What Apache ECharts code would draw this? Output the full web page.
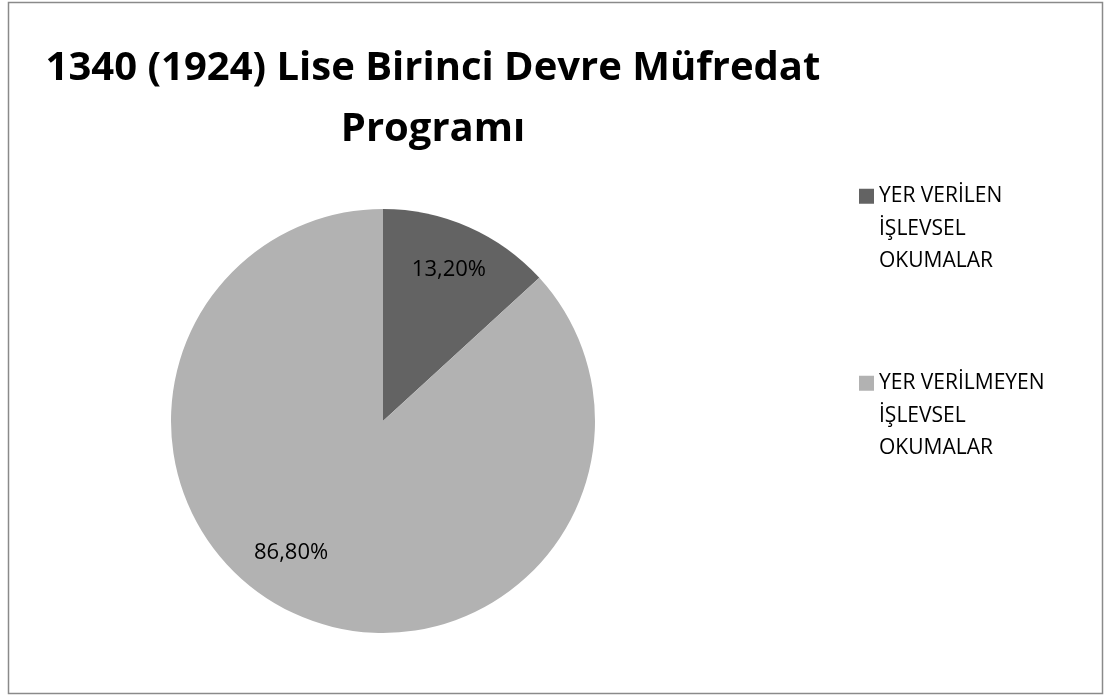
<!DOCTYPE html>
<html><head><meta charset="utf-8">
<script src="https://cdn.jsdelivr.net/npm/echarts@6/dist/echarts.min.js"></script>
<style>html,body{margin:0;padding:0;background:#fff}#c{width:1105px;height:696px}</style>
</head><body><div id="c"></div>
<script>
const titleText = '1340 (1924) Lise Birinci Devre Müfredat\nProgramı';
const categories = ['YER VERİLEN İŞLEVSEL OKUMALAR', 'YER VERİLMEYEN İŞLEVSEL OKUMALAR'];
const legendLines = [['YER VERİLEN', 'İŞLEVSEL', 'OKUMALAR'], ['YER VERİLMEYEN', 'İŞLEVSEL', 'OKUMALAR']];
const values = [13.2, 86.8];
const labelTexts = ['13,20%', '86,80%'];
const colors = ['#636363', '#b2b2b2'];

const labelShift = [[22, -52], [-48, 32]];

const chart = echarts.init(document.getElementById('c'));
chart.setOption({
  animation: false,
  color: colors,
  title: {
    text: titleText,
    left: 428, top: 33, textAlign: 'center',
    textStyle: {fontFamily: 'Open Sans', fontWeight: 'bold', fontSize: 40, color: '#000', lineHeight: 61}
  },
  graphic: [{
    type: 'rect', shape: {x: 8.5, y: 2.5, width: 1094, height: 691},
    style: {fill: 'none', stroke: '#8a8a8a', lineWidth: 1.5}, silent: true
  }],
  legend: {
    orient: 'vertical', left: 854, top: 110,
    itemWidth: 15, itemHeight: 15, itemGap: 24.5,
    icon: 'rect',
    formatter: function (name) { return ['', ''].concat(legendLines[categories.indexOf(name)]).join('\n'); },
    textStyle: {fontFamily: 'Open Sans', fontSize: 21, color: '#000', lineHeight: 32.5},
    data: categories
  },
  series: [{
    type: 'pie',
    center: [383, 421], radius: 212,
    startAngle: 90, clockwise: true,
    label: {
      position: 'inside', fontFamily: 'Open Sans', fontSize: 22, color: '#000',
      formatter: function (p) { return labelTexts[p.dataIndex]; }
    },
    labelLayout: function (p) { return {dx: labelShift[p.dataIndex][0], dy: labelShift[p.dataIndex][1]}; },
    labelLine: {show: false},
    itemStyle: {borderWidth: 0},
    emphasis: {disabled: true},
    data: categories.map((c, i) => ({name: c, value: values[i]}))
  }]
});
</script></body></html>
